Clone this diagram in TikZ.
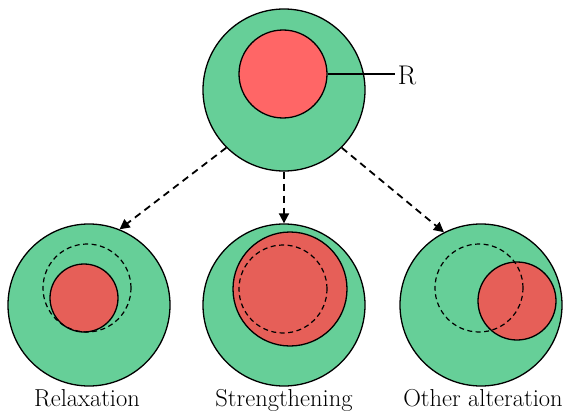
\documentclass[tikz,border=0pt]{standalone}
\usetikzlibrary{arrows.meta}
\definecolor{cgreen}{HTML}{66CF98}
\definecolor{ctopred}{HTML}{FF6666}
\definecolor{cred}{HTML}{E65F58}
\begin{document}
\begin{tikzpicture}[x=1pt,y=-1pt,
  outer/.style={circle,draw=black,line width=1.3pt,fill=cgreen,minimum size=162pt,inner sep=0pt},
  inner/.style={circle,draw=black,line width=1.3pt,fill=cred,inner sep=0pt},
  ghost/.style={circle,draw=black,line width=1.2pt,dash pattern=on 5pt off 3.5pt,minimum size=88pt,inner sep=0pt},
  flow/.style={line width=1.8pt,dash pattern=on 7pt off 5pt,-{Triangle[length=10pt,width=10pt]}},
  lab/.style={font=\fontsize{24.5}{29}\selectfont,inner sep=0pt}
]
\useasboundingbox (0,0) rectangle (568,412);
% top
\node[outer] (top) at (284,90) {};
\node[inner,fill=ctopred,minimum size=88pt] (tr) at (283,74) {};
\node[font=\fontsize{27}{31}\selectfont,inner sep=3pt] (rlab) at (407,75) {R};
\draw[line width=1.2pt] (tr.east) -- (tr.east -| rlab.west);
% bottom outer circles
\node[outer] (bl) at (89,305) {};
\node[outer] (bm) at (284,305) {};
\node[outer] (br) at (481,305) {};
% red circles
\node[inner,minimum size=68pt] (rl) at (84,298) {};
\node[inner,minimum size=114pt] (rm) at (290,289) {};
\node[inner,minimum size=78pt] (rr) at (517,301) {};
% dashed original
\node[ghost] (gl) at (87,288) {};
\node[ghost] (gm) at (283,289) {};
\node[ghost] (gr) at (479,288) {};
% arrows
\draw[flow] (top.-135) -- (bl.68);
\draw[flow] (top.south) -- (bm.north);
\draw[flow] (top.-45) -- (br.117);
% labels
\node[lab,anchor=base] (l1) at (87,406) {Relaxation};
\node[lab,anchor=base] (l2) at (284,406) {Strengthening};
\node[lab,anchor=base] (l3) at (483,406) {Other alteration};
\end{tikzpicture}
\end{document}
